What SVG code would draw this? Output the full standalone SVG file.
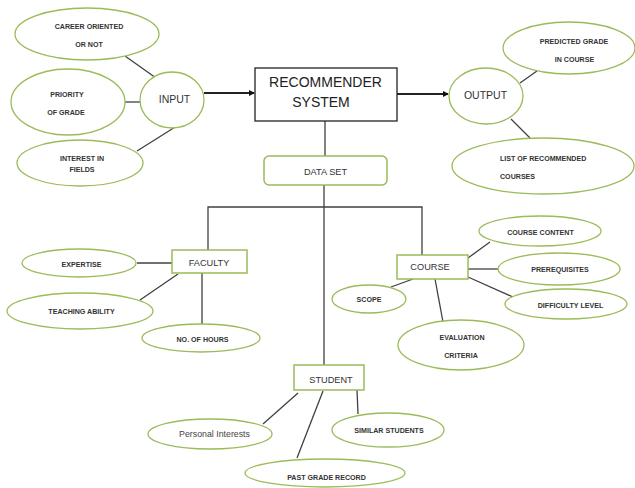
<svg xmlns="http://www.w3.org/2000/svg" width="635" height="488" viewBox="0 0 635 488">
<defs>
<style>
.el{fill:#fff;stroke:#9bbb59;stroke-width:1.3}
.bx{fill:#fff;stroke:#9bbb59;stroke-width:1.5}
.ln{stroke:#404040;stroke-width:1.3;fill:none}
.ar{stroke:#222;stroke-width:2;fill:none}
.s{font-family:"Liberation Sans",Arial,sans-serif;font-weight:bold;font-size:7.1px;fill:#333;text-anchor:middle}
.m{font-family:"Liberation Sans",Arial,sans-serif;font-size:9.2px;fill:#333;text-anchor:middle}
.p{font-family:"Liberation Sans",Arial,sans-serif;font-size:8.8px;fill:#444;text-anchor:middle}
.b{font-family:"Liberation Sans",Arial,sans-serif;font-size:14px;fill:#222;text-anchor:middle}
</style>
<marker id="ah" markerWidth="6" markerHeight="6" refX="5" refY="3" orient="auto" markerUnits="userSpaceOnUse">
<path d="M0,0 L6,3 L0,6 Z" fill="#111"/>
</marker>
</defs>
<rect width="635" height="488" fill="#fff"/>
<g id="connectors">
<line class="ln" x1="125" y1="56" x2="156" y2="78"/>
<line class="ln" x1="124" y1="102" x2="143" y2="102"/>
<line class="ln" x1="137" y1="151" x2="180" y2="124"/>
<line class="ar" x1="204" y1="93" x2="254" y2="93" marker-end="url(#ah)"/>
<line class="ar" x1="397" y1="94" x2="448" y2="94" marker-end="url(#ah)"/>
<line class="ln" x1="520" y1="83" x2="537" y2="71"/>
<line class="ln" x1="511" y1="119" x2="530" y2="138"/>
<line class="ln" x1="325" y1="121" x2="325" y2="156"/>
<line class="ln" x1="324" y1="185" x2="324" y2="365"/>
<polyline class="ln" points="208,250 208,207 422,207 422,255"/>
<line class="ln" x1="137" y1="263" x2="172" y2="263"/>
<line class="ln" x1="140" y1="300" x2="178" y2="274"/>
<line class="ln" x1="202" y1="273" x2="202" y2="324"/>
<line class="ln" x1="468" y1="258" x2="490" y2="242"/>
<line class="ln" x1="468" y1="269" x2="498" y2="269"/>
<line class="ln" x1="468" y1="277" x2="513" y2="297"/>
<line class="ln" x1="391" y1="287" x2="413" y2="279"/>
<line class="ln" x1="435" y1="279" x2="443" y2="322"/>
<line class="ln" x1="263" y1="424" x2="298" y2="393"/>
<line class="ln" x1="297" y1="458" x2="323" y2="391"/>
<line class="ln" x1="357" y1="390" x2="358" y2="414"/>
</g>
<g id="career"><ellipse class="el" cx="87" cy="34" rx="72" ry="26"/><text class="s" x="89" y="28.5">CAREER ORIENTED</text><text class="s" x="89" y="46.5">OR NOT</text></g>
<g id="priority"><ellipse class="el" cx="68" cy="102" rx="57" ry="33"/><text class="s" x="67" y="96.5">PRIORITY</text><text class="s" x="66" y="114.5">OF GRADE</text></g>
<g id="interest"><ellipse class="el" cx="80" cy="163" rx="63" ry="23"/><text class="s" x="82" y="160.5">INTEREST IN</text><text class="s" x="82" y="171.5">FIELDS</text></g>
<g id="input"><ellipse class="el" cx="172" cy="100" rx="32" ry="28"/><text class="m" x="174.5" y="102.5" style="font-size:10.5px">INPUT</text></g>
<g id="recommender"><rect x="255" y="68" width="142" height="53" fill="#fff" stroke="#222" stroke-width="1.3"/><text class="b" x="325.5" y="87">RECOMMENDER</text><text class="b" x="321" y="107">SYSTEM</text></g>
<g id="output"><ellipse class="el" cx="486" cy="96" rx="37" ry="28"/><text class="m" x="485.5" y="98.5" style="font-size:10.5px">OUTPUT</text></g>
<g id="predicted"><ellipse class="el" cx="569" cy="48" rx="66" ry="26"/><text class="s" x="574" y="43.5">PREDICTED GRADE</text><text class="s" x="574.5" y="61.5">IN COURSE</text></g>
<g id="list"><ellipse class="el" cx="543" cy="166" rx="91" ry="28"/><text class="s" x="500" y="160.5" style="text-anchor:start">LIST OF RECOMMENDED</text><text class="s" x="500" y="178.5" style="text-anchor:start">COURSES</text></g>
<g id="dataset"><rect class="bx" x="264" y="156" width="123" height="29" rx="5"/><text class="m" x="325.5" y="175">DATA SET</text></g>
<g id="faculty"><rect class="bx" x="172" y="250" width="75" height="23"/><text class="m" x="209" y="266">FACULTY</text></g>
<g id="expertise"><ellipse class="el" cx="79" cy="263" rx="57" ry="14"/><text class="s" x="81.5" y="266.5">EXPERTISE</text></g>
<g id="teaching"><ellipse class="el" cx="80" cy="311" rx="73" ry="18"/><text class="s" x="81.5" y="313.5">TEACHING ABILITY</text></g>
<g id="hours"><ellipse class="el" cx="201" cy="338" rx="59" ry="14"/><text class="s" x="202.5" y="341.5">NO. OF HOURS</text></g>
<g id="course"><rect class="bx" x="397" y="255" width="71" height="24"/><text class="m" x="430" y="270">COURSE</text></g>
<g id="content"><ellipse class="el" cx="540" cy="231" rx="61" ry="15"/><text class="s" x="540.5" y="234.5">COURSE CONTENT</text></g>
<g id="prereq"><ellipse class="el" cx="559" cy="269" rx="61" ry="16"/><text class="s" x="560" y="271.5">PREREQUISITES</text></g>
<g id="difficulty"><ellipse class="el" cx="566" cy="304" rx="61" ry="15"/><text class="s" x="570.5" y="307.5">DIFFICULTY LEVEL</text></g>
<g id="scope"><ellipse class="el" cx="369" cy="299" rx="37" ry="14"/><text class="s" x="369" y="301.5">SCOPE</text></g>
<g id="evaluation"><ellipse class="el" cx="461" cy="345" rx="63" ry="25"/><text class="s" x="462" y="339.5">EVALUATION</text><text class="s" x="461" y="357.5">CRITERIA</text></g>
<g id="student"><rect class="bx" x="294" y="365" width="70" height="25"/><text class="m" x="331" y="383">STUDENT</text></g>
<g id="personal"><ellipse class="el" cx="210" cy="434" rx="62" ry="15"/><text class="p" x="214.5" y="436.5">Personal Interests</text></g>
<g id="similar"><ellipse class="el" cx="388" cy="430" rx="56" ry="17"/><text class="s" x="389" y="432.5">SIMILAR STUDENTS</text></g>
<g id="pastgrade"><ellipse class="el" cx="325" cy="473" rx="80" ry="14"/><text class="s" x="326.5" y="479.5">PAST GRADE RECORD</text></g>
</svg>
